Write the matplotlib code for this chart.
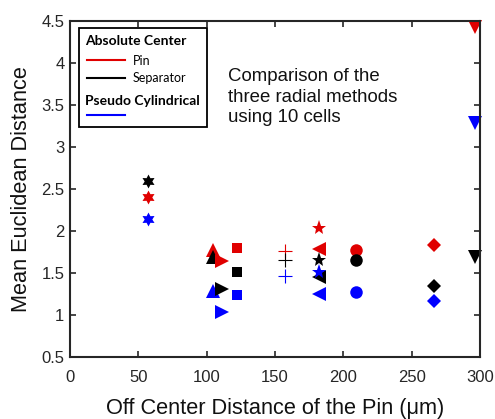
import numpy as np
import matplotlib
matplotlib.use("Agg")
import matplotlib.pyplot as plt
from matplotlib.lines import Line2D
from matplotlib.patches import Rectangle
from matplotlib.path import Path

plt.rcParams['font.family'] = ['Liberation Sans', 'DejaVu Sans']

# Data: off-center distance (um) and mean Euclidean distance per cell
x_pos = [57, 104.5, 111, 122, 157, 182, 182, 209, 266, 296]
markers = ['hex', '^', '>', 's', '+', '<', '*', 'o', 'D', 'v']
pin_vals = [2.40, 1.77, 1.64, 1.80, 1.76, 1.79, 2.04, 1.77, 1.83, 4.43]
sep_vals = [2.60, 1.69, 1.31, 1.51, 1.66, 1.45, 1.66, 1.66, 1.345, 1.69]
pseudo_vals = [2.14, 1.29, 1.04, 1.24, 1.47, 1.25, 1.51, 1.27, 1.17, 3.29]

series_colors = {'pin': '#e00000', 'sep': '#000000', 'pseudo': '#0000ff'}

xticks = [0, 50, 100, 150, 200, 250, 300]
yticks = [0.5, 1, 1.5, 2, 2.5, 3, 3.5, 4, 4.5]
ytick_labels = ['0.5', '1', '1.5', '2', '2.5', '3', '3.5', '4', '4.5']

# hexagram marker
ang_o = np.deg2rad(np.arange(6) * 60 + 90)
ang_i = ang_o + np.deg2rad(30)
verts = []
for a, b in zip(ang_o, ang_i):
    verts.append((np.cos(a), np.sin(a)))
    verts.append((0.55 * np.cos(b), 0.55 * np.sin(b)))
verts.append(verts[0])
hexagram = Path(verts, [Path.MOVETO] + [Path.LINETO] * 11 + [Path.CLOSEPOLY])

W, H = 495, 419
fig = plt.figure(figsize=(W / 100, H / 100), dpi=100)
ax = fig.add_axes([70 / W, 1 - 357 / H, 410 / W, 336 / H])

sizes = {'hex': 10, '^': 10, '>': 10, 's': 7.5, '+': 10, '<': 10, '*': 11, 'o': 9, 'D': 7.5, 'v': 10}
for xi, m, p, s, q in zip(x_pos, markers, pin_vals, sep_vals, pseudo_vals):
    mk = hexagram if m == 'hex' else m
    for val, key in ((p, 'pin'), (s, 'sep'), (q, 'pseudo')):
        if m == '+':
            ax.plot([xi], [val], marker='+', color=series_colors[key], ms=sizes[m],
                    mew=0.8, ls='none', clip_on=False)
        else:
            ax.plot([xi], [val], marker=mk, color=series_colors[key], ms=sizes[m],
                    mew=0, ls='none', clip_on=False)

ax.set_xlim(0, 300)
ax.set_ylim(0.5, 4.5)
ax.set_xticks(xticks)
ax.set_yticks(yticks)
ax.set_yticklabels(ytick_labels)
ax.tick_params(direction='in', top=True, right=True, length=4, width=1.2,
               labelsize=12, colors='#262626', labelcolor='#262626')
ax.tick_params(axis='x', pad=9)
ax.tick_params(axis='y', pad=4)
for sp in ax.spines.values():
    sp.set_linewidth(1.5)
    sp.set_color('#262626')
ax.set_xlabel('Off Center Distance of the Pin (μm)', fontsize=15.7, color='#111111', labelpad=9.5)
ax.set_ylabel('Mean Euclidean Distance', fontsize=15.7, color='#111111', labelpad=7)

def fx(px):
    return px / W

def fy(py):
    return 1 - py / H

# Legend box
fig.patches.append(Rectangle((fx(79), fy(127)), (207 - 79) / W, (127 - 28) / H,
                             transform=fig.transFigure, fill=True, facecolor='white',
                             edgecolor='black', lw=1.3, zorder=5))
lfont = ['Lato', 'DejaVu Sans']
fig.text(fx(85), fy(41), 'Absolute Center', fontsize=10, fontweight='bold', family=lfont,
         va='center', ha='left', zorder=6)
fig.lines.append(Line2D([fx(87), fx(125)], [fy(60), fy(60)], color=series_colors['pin'], lw=1.5,
                        transform=fig.transFigure, zorder=6))
fig.text(fx(133), fy(61), 'Pin', fontsize=9, family=lfont, va='center', ha='left', zorder=6)
fig.lines.append(Line2D([fx(87), fx(125)], [fy(78), fy(78)], color=series_colors['sep'], lw=1.5,
                        transform=fig.transFigure, zorder=6))
fig.text(fx(133), fy(78), 'Separator', fontsize=9, family=lfont, va='center', ha='left', zorder=6)
fig.text(fx(85), fy(101), 'Pseudo Cylindrical', fontsize=10, fontweight='bold', family=lfont,
         va='center', ha='left', zorder=6)
fig.lines.append(Line2D([fx(87), fx(125)], [fy(115), fy(115)], color=series_colors['pseudo'], lw=1.5,
                        transform=fig.transFigure, zorder=6))

fig.text(fx(228), fy(97), 'Comparison of the\nthree radial methods\nusing 10 cells',
         fontsize=13.4, va='center', ha='left', linespacing=1.3, color='#111111')

fig.savefig('out.png', dpi=100)
